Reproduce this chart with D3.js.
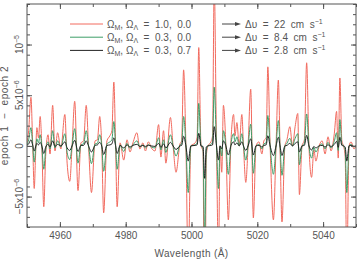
<!DOCTYPE html>
<html>
<head>
  <script src="https://cdnjs.cloudflare.com/ajax/libs/d3/7.8.5/d3.min.js"></script>
  <style>
    body { margin: 0; background: #fff; }
    text { font-family: "Liberation Sans", "DejaVu Sans", sans-serif; fill: #555; }
    .line { fill: none; stroke-width: 1; stroke-linejoin: round; }
    .tick line { stroke: #555; }
  </style>
</head>
<body>
  <div id="graph"></div>
  <script>
    // Wavelength sample points (Angstrom)
    const wavelength = [
      4950, 4950.5, 4951.2, 4951.7, 4952.2, 4952.6, 4953.0, 4953.5, 4954.0, 4954.5,
      4955.1, 4955.7, 4956.4, 4957.0, 4957.8, 4958.5, 4959.3, 4960.3, 4961.5, 4962.2,
      4963.0, 4963.7, 4964.5, 4965.5, 4966.4, 4967.2, 4968.0, 4968.7, 4969.6, 4970.7,
      4971.4, 4972.1, 4972.7, 4973.3, 4974.3, 4975.2, 4975.8, 4976.4, 4976.9, 4977.4,
      4978.3, 4979.4, 4980.4, 4981.3, 4982.2, 4983.4, 4984.3, 4985.2, 4986.0, 4986.9,
      4987.8, 4988.9, 4990.0, 4990.7, 4991.5, 4992.2, 4993.6, 4994.4, 4995.3, 4996.5,
      4997.0, 4997.6, 4998.3, 4999.0, 4999.8, 5001.1, 5001.7, 5002.2, 5002.9, 5003.5,
      5004.0, 5004.5, 5005.0, 5005.9, 5006.4, 5006.9, 5007.6, 5008.2, 5008.7, 5009.2,
      5009.7, 5010.4, 5011.2, 5012.0, 5012.8, 5013.2, 5013.8, 5014.5, 5015.3, 5015.8,
      5016.5, 5017.2, 5018.0, 5018.8, 5019.6, 5020.5, 5021.4, 5022.0, 5022.7, 5023.2,
      5023.9, 5024.9, 5025.7, 5026.4, 5026.9, 5027.5, 5028.4, 5029.0, 5029.9, 5030.7,
      5031.5, 5032.3, 5032.8, 5033.6, 5034.3, 5035.0, 5035.7, 5036.5, 5037.2, 5037.8,
      5038.8, 5039.7, 5040.6, 5041.5, 5042.4, 5043.4, 5044.1, 5044.6, 5045.1, 5045.7,
      5046.2, 5046.7, 5047.2, 5047.9, 5048.5, 5049.4, 5050
    ];

    // epoch 1 - epoch 2, in units of 1e-6
    // Omega_M, Omega_L = 1.0, 0.0
    const diffRed = [
      0.3, 1.5, 4.8, 0.5, -4.2, -1.0, 1.8, 0.8, 2.9, 0.0,
      -6.0, -0.8, 1.1, -0.8, 4.0, -0.5, 1.3, -0.3, 3.1, -1.7,
      -3.5, 0.0, 4.4, -4.4, 0.3, 0.5, 4.0, 0.0, -4.6, 0.5,
      0.6, 2.9, 0.2, -6.6, 0.5, 1.0, 1.5, 6.3, 0.5, -6.0,
      0.3, -1.4, 0.6, -0.6, 0.3, 1.3, -0.3, 0.3, -0.5, 0.4,
      -0.2, -0.5, 2.1, -1.1, 1.5, -1.7, 2.8, 0.0, -2.6, 0.2,
      0.5, 7.5, 0.0, -12, 0.0, 0.3, 0.8, 9.7, 0.0, -0.5,
      -25, -1.0, 0.0, 0.4, 1.0, 16, 0.0, -11, 0.0, -2.6,
      4.0, 0.5, -7.3, 0.5, 3.1, 1.0, 2.3, 0.0, 3.1, 0.0,
      -3.6, 0.0, 5.6, -7.1, 0.0, 0.4, -0.8, 0.5, 0.8, 7.8,
      0.0, -7.3, 0.0, 6.5, 0.0, -7.5, 0.0, 0.6, 1.9, 0.0,
      1.9, 3.2, -4.8, 0.0, 0.6, 8.2, 0.0, -3.1, -0.4, -1.5,
      0.0, 0.5, -0.8, 0.9, -0.5, 1.2, 3.4, -1.2, 6.7, 0.5,
      0.0, -1.0, -12, 0.0, 0.4, -0.3, 0.0
    ];

    // Omega_M, Omega_L = 0.3, 0.0
    const diffGreen = [
      0.1, 0.6, 1.8, 0.2, -1.6, -0.4, 0.7, 0.3, 1.1, 0.0,
      -2.3, -0.3, 0.4, -0.3, 1.5, -0.2, 0.5, -0.1, 1.2, -0.65,
      -1.35, 0.0, 1.7, -1.7, 0.1, 0.2, 1.5, 0.0, -1.75, 0.2,
      0.25, 1.1, 0.1, -2.5, 0.2, 0.4, 0.6, 2.4, 0.2, -2.3,
      0.1, -0.55, 0.25, -0.25, 0.1, 0.5, -0.1, 0.1, -0.2, 0.15,
      -0.1, -0.2, 0.8, -0.4, 0.6, -0.65, 1.1, 0.0, -1.0, 0.1,
      0.2, 2.9, 0.0, -4.6, 0.0, 0.1, 0.3, 4.2, 0.0, -0.2,
      -9.6, -0.4, 0.0, 0.15, 0.4, 5.8, 0.0, -4.2, 0.0, -1.0,
      1.5, 0.2, -2.8, 0.2, 1.2, 0.4, 0.9, 0.0, 1.2, 0.0,
      -1.4, 0.0, 2.15, -2.7, 0.0, 0.15, -0.3, 0.2, 0.3, 3.0,
      0.0, -2.8, 0.0, 2.5, 0.0, -2.9, 0.0, 0.25, 0.75, 0.0,
      0.75, 1.2, -1.85, 0.0, 0.25, 3.15, 0.0, -1.2, -0.15, -0.6,
      0.0, 0.2, -0.3, 0.35, -0.2, 0.45, 1.3, -0.45, 2.6, 0.2,
      0.0, -0.4, -4.6, 0.0, 0.15, -0.1, 0.0
    ];

    // Omega_M, Omega_L = 0.3, 0.7
    const diffBlack = [
      0.05, 0.2, 0.6, 0.1, -0.5, -0.1, 0.25, 0.1, 0.35, 0.0,
      -0.75, -0.1, 0.15, -0.1, 0.5, -0.05, 0.15, 0.0, 0.4, -0.2,
      -0.45, 0.0, 0.55, -0.55, 0.05, 0.05, 0.5, 0.0, -0.6, 0.05,
      0.1, 0.35, 0.0, -0.85, 0.05, 0.1, 0.2, 0.8, 0.05, -0.75,
      0.05, -0.2, 0.1, -0.1, 0.05, 0.15, -0.05, 0.05, -0.05, 0.05,
      0.0, -0.05, 0.25, -0.15, 0.2, -0.2, 0.35, 0.0, -0.35, 0.0,
      0.05, 0.95, 0.0, -1.5, 0.0, 0.05, 0.1, 1.25, 0.0, -0.05,
      -3.2, -0.1, 0.0, 0.05, 0.1, 1.9, 0.0, -1.4, 0.0, -0.3,
      0.5, 0.05, -0.9, 0.05, 0.4, 0.1, 0.3, 0.0, 0.4, 0.0,
      -0.45, 0.0, 0.7, -0.9, 0.0, 0.05, -0.1, 0.05, 0.1, 1.0,
      0.0, -0.95, 0.0, 0.85, 0.0, -0.95, 0.0, 0.05, 0.25, 0.0,
      0.25, 0.4, -0.6, 0.0, 0.05, 1.05, 0.0, -0.4, -0.05, -0.2,
      0.0, 0.05, -0.1, 0.1, -0.05, 0.15, 0.45, -0.15, 0.85, 0.05,
      0.0, -0.1, -1.5, 0.0, 0.05, -0.05, 0.0
    ];

    const xTickValues = [4960, 4980, 5000, 5020, 5040];
    const yTickValues = [-5, 0, 5, 10];
    const yTickLabels = [["\u22125x10", "\u22126"], ["0", ""], ["5x10", "\u22126"], ["10", "\u22125"]];
    const legendModels = ["1.0, 0.0", "0.3, 0.0", "0.3, 0.7"];
    const legendShifts = ["22", "8.4", "2.8"];
    const seriesColors = ["#f26a5e", "#3e9e68", "#222"];

    const W = 360, H = 261;
    const margin = {top: 4, right: 4, bottom: 34, left: 27};
    const width = W - margin.left - margin.right;
    const height = H - margin.top - margin.bottom;

    const root = d3.select("#graph").append("svg")
      .attr("width", W)
      .attr("height", H);

    root.append("defs").append("clipPath")
      .attr("id", "plotclip")
      .append("rect")
        .attr("width", width)
        .attr("height", height);

    const svg = root.append("g")
      .attr("transform", `translate(${margin.left},${margin.top})`);

    const x = d3.scaleLinear().domain([4950, 5050]).range([0, width]);
    const y = d3.scaleLinear().domain([-8, 14]).range([height, 0]);

    // Series
    const series = [diffRed, diffGreen, diffBlack].map(vals =>
      wavelength.map((w, i) => ({w: w, v: vals[i]})));

    const line = d3.line()
      .x(d => x(d.w))
      .y(d => y(d.v))
      .curve(d3.curveMonotoneX);

    const plot = svg.append("g").attr("clip-path", "url(#plotclip)");
    series.forEach((s, i) => {
      plot.append("path")
        .datum(s)
        .attr("class", "line")
        .style("stroke", seriesColors[i])
        .attr("d", line);
    });

    // Ticks on all four sides, pointing inward
    const xMinor = d3.range(4950, 5051, 10);
    const yMinor = d3.range(-8, 15, 1);

    function addAxis(gen, transform) {
      const g = svg.append("g").attr("transform", transform).call(gen);
      g.select(".domain").remove();
      return g;
    }

    addAxis(d3.axisBottom(x).tickValues(xMinor).tickSize(-3).tickFormat(""), `translate(0,${height})`);
    addAxis(d3.axisTop(x).tickValues(xMinor).tickSize(-3).tickFormat(""), "translate(0,0)");
    addAxis(d3.axisLeft(y).tickValues(yMinor).tickSize(-3).tickFormat(""), "translate(0,0)");
    addAxis(d3.axisRight(y).tickValues(yMinor).tickSize(-3).tickFormat(""), `translate(${width},0)`);

    const xAxis = addAxis(d3.axisBottom(x).tickValues(xTickValues).tickSize(-5).tickPadding(5).tickFormat(d3.format("d")), `translate(0,${height})`);
    xAxis.selectAll("text").style("font-size", "10px").attr("fill", "#555");
    addAxis(d3.axisTop(x).tickValues(xTickValues).tickSize(-5).tickFormat(""), "translate(0,0)");
    addAxis(d3.axisLeft(y).tickValues(yTickValues).tickSize(-5).tickFormat(""), "translate(0,0)");
    addAxis(d3.axisRight(y).tickValues(yTickValues).tickSize(-5).tickFormat(""), `translate(${width},0)`);
    svg.selectAll(".tick line").attr("stroke", "#555");

    // Frame
    svg.append("rect")
      .attr("width", width)
      .attr("height", height)
      .attr("fill", "none")
      .attr("stroke", "#555");

    // Rotated y tick labels
    yTickValues.forEach((v, i) => {
      const t = svg.append("text")
        .attr("transform", `translate(-4,${y(v)}) rotate(-90)`)
        .style("text-anchor", "middle")
        .style("font-size", "10px")
        .text(yTickLabels[i][0]);
      if (yTickLabels[i][1]) {
        t.append("tspan")
          .attr("dy", -4)
          .style("font-size", "7px")
          .text(yTickLabels[i][1]);
      }
    });

    // Axis titles
    svg.append("text")
      .attr("x", width / 2)
      .attr("y", height + 30)
      .style("text-anchor", "middle")
      .style("font-size", "10px")
      .style("letter-spacing", "0.4px")
      .text("Wavelength (\u00c5)");

    svg.append("text")
      .attr("transform", `translate(-19,${height / 2}) rotate(-90)`)
      .style("text-anchor", "middle")
      .style("font-size", "10px")
      .style("letter-spacing", "0.6px")
      .style("white-space", "pre")
      .text("epoch 1  \u2212  epoch 2");

    // Legend
    const legend = svg.append("g")
      .attr("transform", "translate(43,20)");

    legendModels.forEach((m, i) => {
      const yy = i * 13.2;
      legend.append("line")
        .style("stroke", seriesColors[i])
        .style("stroke-width", 1)
        .attr("x1", 0).attr("y1", yy)
        .attr("x2", 33).attr("y2", yy);

      const t = legend.append("text")
        .attr("x", 37)
        .attr("y", yy + 3.5)
        .style("font-size", "10px")
        .style("white-space", "pre");
      t.append("tspan").text("\u03a9");
      t.append("tspan").attr("dy", 2).style("font-size", "7px").text("M");
      t.append("tspan").attr("dy", -2).text(", \u03a9");
      t.append("tspan").attr("dy", 2).style("font-size", "7px").text("\u039b");
      t.append("tspan").attr("dy", -2).text("  =  " + m.replace(", ", ",  "));

      // arrow
      legend.append("line")
        .style("stroke", "#444")
        .attr("x1", 152).attr("y1", yy)
        .attr("x2", 166).attr("y2", yy);
      legend.append("path")
        .attr("fill", "#444")
        .attr("d", `M165,${yy - 2}L171,${yy}L165,${yy + 2}Z`);

      const s = legend.append("text")
        .attr("x", 175)
        .attr("y", yy + 3.5)
        .style("font-size", "10px")
        .style("white-space", "pre");
      s.append("tspan").text("\u0394\u03c5  =  " + legendShifts[i] + "  cm  s");
      s.append("tspan").attr("dy", -4).style("font-size", "7px").text("\u22121");
    });
  </script>
</body>
</html>
